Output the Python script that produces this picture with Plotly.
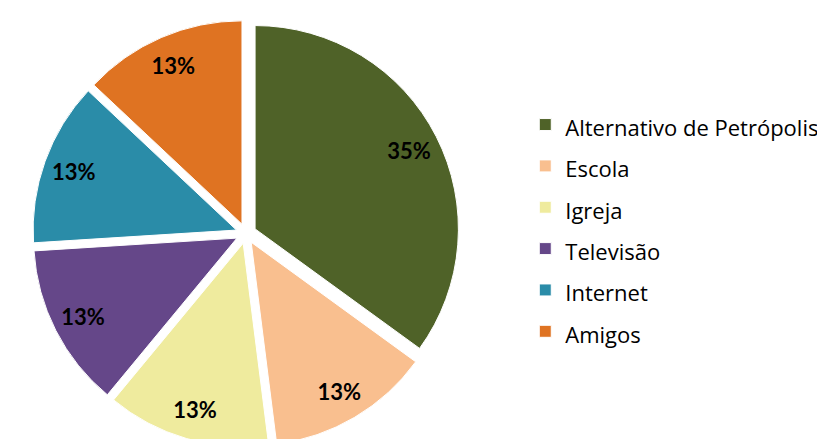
import plotly.graph_objects as go

categories = ["Alternativo de Petrópolis", "Escola", "Igreja", "Televisão", "Internet", "Amigos"]
percent = [35, 13, 13, 13, 13, 13]
colors = ["#4F6228", "#F9BF8F", "#EFEB9E", "#654789", "#2A8CA8", "#DF7322"]

legend_labels = [f'<span style="font-size:22px">{c}</span>' for c in categories]
domain = dict(x=[0, 0.577], y=[0, 1])
pull = [0.05] * len(percent)

# base slices (no text)
fig = go.Figure(go.Pie(
    labels=legend_labels,
    values=percent,
    sort=False,
    direction="clockwise",
    rotation=0,
    pull=pull,
    marker=dict(colors=colors, line=dict(color="white", width=1)),
    textinfo="none",
    domain=domain,
    hoverinfo="skip",
))

# transparent ring used only to place the percentage labels further out
fig.add_trace(go.Pie(
    labels=legend_labels,
    values=percent,
    sort=False,
    direction="clockwise",
    rotation=0,
    pull=pull,
    hole=0.7,
    marker=dict(colors=["rgba(0,0,0,0)"] * len(percent), line=dict(width=0)),
    texttemplate="%{value}%",
    textposition="inside",
    insidetextorientation="horizontal",
    textfont=dict(family="Lato", size=22, color="black", weight="bold"),
    domain=domain,
    hoverinfo="skip",
    showlegend=False,
))

fig.update_layout(
    width=825, height=439,
    margin=dict(l=0, r=0, t=12, b=0),
    paper_bgcolor="white",
    plot_bgcolor="white",
    showlegend=True,
    legend=dict(
        x=0.627, y=0.512, xanchor="left", yanchor="middle",
        font=dict(family="Open Sans", size=29.5, color="black"),
        valign="middle",
        traceorder="normal",
    ),
)

fig.write_html("out.html")
